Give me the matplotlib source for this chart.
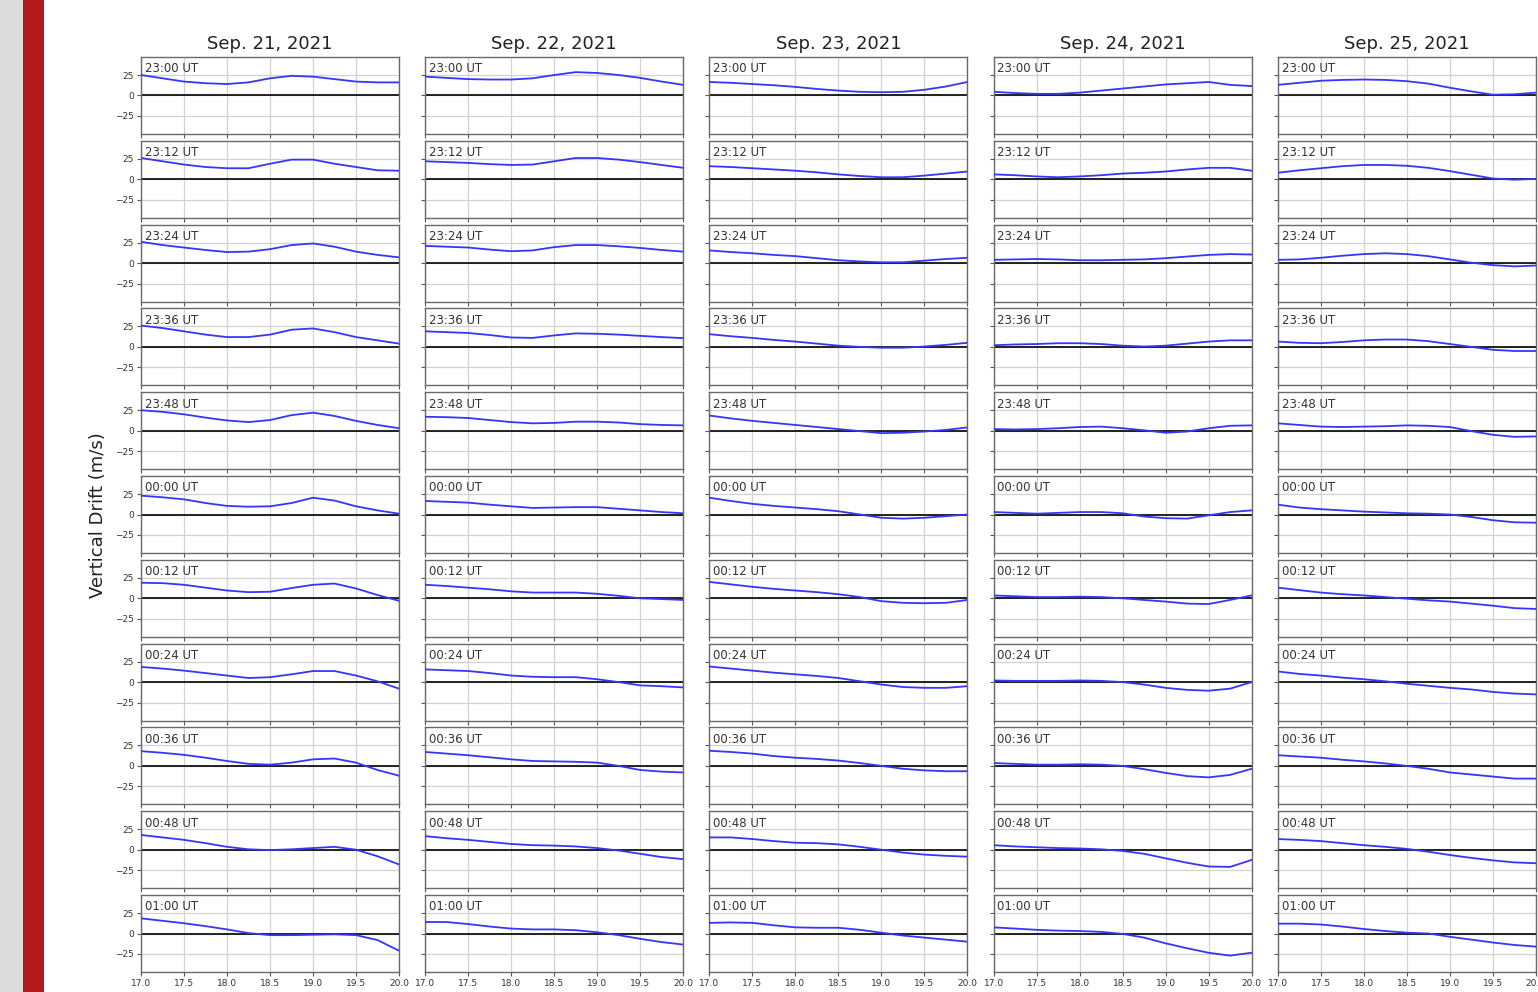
import matplotlib
matplotlib.use("Agg")
import matplotlib.pyplot as plt
from matplotlib.patches import Rectangle
import numpy as np

# ---------------- data ----------------
dates = ["Sep. 21, 2021", "Sep. 22, 2021", "Sep. 23, 2021", "Sep. 24, 2021", "Sep. 25, 2021"]
times = ["23:00 UT", "23:12 UT", "23:24 UT", "23:36 UT", "23:48 UT", "00:00 UT",
         "00:12 UT", "00:24 UT", "00:36 UT", "00:48 UT", "01:00 UT"]
hours = [17.0, 17.25, 17.5, 17.75, 18.0, 18.25, 18.5, 18.75, 19.0, 19.25, 19.5, 19.75, 20.0]
xticks = [17.0, 17.5, 18.0, 18.5, 19.0, 19.5, 20.0]
yticks = [-25, 0, 25]

sep21 = [
    [25, 21, 17, 15, 14, 16, 21, 24, 23, 20, 17, 16, 16],
    [26, 22, 18, 15, 13.5, 13.5, 19, 24, 24, 19, 15, 11, 10.5],
    [26, 22, 19, 16, 13.5, 14, 17, 22, 24, 20, 14, 10, 7],
    [26, 23, 19, 15, 12, 12, 15, 21, 22.5, 18, 12, 8, 4],
    [25, 23, 20, 16, 12.5, 10.5, 13, 19, 22, 18, 12, 7, 3],
    [23, 21, 18.5, 14, 10.5, 9.5, 10, 14, 20.5, 17, 10, 5, 1],
    [19, 18.5, 16.5, 13, 9.5, 7.5, 8, 12.5, 16.5, 18, 12, 4, -3],
    [18.5, 16.5, 14, 11, 8, 5, 6, 9.5, 13.5, 13.5, 8, 1, -8],
    [18, 16, 13.5, 10, 6, 2.5, 1.5, 4, 8, 9, 4, -5, -12],
    [18, 15, 12, 8, 3.5, 0.5, -0.5, 0.5, 2, 3.5, 0, -8, -18],
    [18.5, 15.5, 12.5, 9, 5, 0.5, -2, -2, -1.5, -1, -2, -8, -21],
]
sep22 = [
    [23, 21.5, 20, 19.5, 19.5, 21, 25, 28.5, 27.5, 25, 21.5, 17, 13],
    [22, 21, 20, 18.5, 17.5, 18, 22, 26, 26, 24, 21, 17.5, 14],
    [21, 20, 19, 16.5, 14.5, 15.5, 19.5, 22, 22, 20.5, 18.5, 16, 14],
    [19, 18, 17, 14.5, 11.5, 11, 14, 16.5, 16, 15, 13.5, 12, 10.7],
    [17, 16.5, 15.5, 13, 10.5, 9, 9.5, 11, 11, 10, 8, 7, 6.5],
    [16.5, 15.5, 14.5, 12, 10, 8, 8.5, 9, 9, 7, 5, 3, 1.5],
    [16.5, 15, 13, 11, 8.5, 7, 7, 7, 5.5, 3, 0, -1, -2],
    [15.5, 14.5, 13.5, 11, 8, 6.5, 6, 6, 3.5, 0, -4, -5, -6.5],
    [17, 15, 13, 10.5, 8, 6, 5.5, 5, 4, 0, -5, -7, -8],
    [16.5, 14, 12, 9.5, 7, 5.5, 5, 4, 2, -1, -5, -9, -11.5],
    [14, 14, 11.5, 8.5, 6, 5, 5, 4, 1.5, -2, -6.5, -10.5, -13.5],
]
sep23 = [
    [16.5, 15.5, 14, 12.5, 10.5, 8, 6, 4.5, 4, 4.5, 7, 11, 16.5],
    [16, 15, 13.5, 12, 10.5, 8.5, 6, 4, 2.5, 2.5, 4.5, 7, 9.5],
    [15.5, 13.5, 12, 10, 8.5, 6, 3.5, 2, 1, 1, 3, 5, 6.5],
    [15.5, 13, 11, 8.5, 6.5, 4, 1.5, 0, -1, -1, 0.5, 2.5, 5],
    [18.5, 15, 12, 9.5, 7, 4.5, 2, -0.5, -3, -2.5, -1, 1, 4],
    [20.5, 16.5, 13, 10.5, 8.5, 6.5, 4, 0, -4, -5, -4, -2, 0],
    [20, 17, 14, 11.5, 9.5, 7.5, 5, 1.5, -3.5, -5.5, -6, -5.5, -2],
    [19, 16.5, 14, 11.5, 9.5, 7.5, 5, 1, -3, -6, -7, -7, -5],
    [18.5, 17, 15, 12, 10, 8.5, 6.5, 3.5, 0, -3.5, -5.5, -6.5, -6.5],
    [15, 15, 13, 10.5, 8.5, 8, 6.5, 3.5, 0, -3.5, -6, -7.5, -8.5],
    [13, 13.5, 13, 10, 7.5, 7, 7, 4.5, 1, -2.5, -5, -7.5, -10],
]
sep24 = [
    [4.5, 3, 2, 2, 3.5, 6, 8.5, 11, 13.5, 15, 16.5, 13, 11.5],
    [6, 5, 3.5, 2.5, 3.5, 5, 7, 8, 9.5, 12, 14, 14, 10.5],
    [4, 4.5, 5, 4.5, 3.5, 3.5, 4, 4.5, 6, 8, 10, 11, 10.5],
    [2, 3, 3.5, 4.5, 4.5, 3.5, 1.5, 0.5, 1.5, 4, 6.5, 8, 8],
    [2, 1.5, 2, 3, 4.5, 5, 3, 0.5, -2.5, -1, 3, 6, 6.5],
    [3, 2, 1, 2, 3, 3, 1.5, -2.5, -4.5, -5, -1, 3, 5],
    [3.5, 2.5, 1.5, 1.5, 2, 1.5, 0, -2, -4, -6.5, -7, -2, 3.5],
    [2, 1.5, 1.5, 1.5, 2, 1.5, 0, -3, -7, -9.5, -10.5, -8, 0],
    [3.5, 2.5, 1.5, 1.5, 2, 1.5, 0, -4, -8.5, -12.5, -14, -11, -3.5],
    [5.5, 4, 3, 2, 1.5, 0.5, -1.5, -5, -10.5, -16, -20.5, -21, -12.5],
    [7.5, 6, 4.5, 3.5, 3, 2, -0.5, -5, -12, -18, -23.5, -27, -23.5],
]
sep25 = [
    [13, 15.5, 18, 19, 19.5, 19, 17.5, 14.5, 9.5, 5, 1, 1.5, 3.5],
    [8, 11, 13.5, 16, 17.5, 17.5, 16.5, 14, 10, 5.5, 1, -0.5, 0.5],
    [4, 4.5, 6.5, 9, 11, 12, 11, 8.5, 4.5, 0.5, -2.5, -4, -3],
    [6.5, 5, 4.5, 6, 8, 9, 9, 7, 3.5, 0, -3.5, -5, -5],
    [9, 7, 5, 4.5, 5, 5.5, 6.5, 6, 4.5, -0.5, -5, -7.5, -7],
    [12, 8.5, 6.5, 5, 3.5, 2.5, 1.5, 1, 0, -3, -7, -9.5, -10],
    [13, 10, 7, 5, 3.5, 1.5, -0.5, -2.5, -4, -6.5, -9, -12, -13],
    [13, 10, 8, 5.5, 3.5, 1, -2, -4.5, -7, -9, -12, -14, -15],
    [13, 11.5, 10, 7.5, 5.5, 3, 0, -3.5, -8, -10.5, -13, -15.5, -15.5],
    [13, 12, 10.5, 8, 5.5, 3.5, 1, -2.5, -6.5, -10, -13, -15.5, -16.5],
    [12, 12, 11, 8.5, 5.5, 3, 1, 0, -4, -7.5, -11, -14, -16],
]
drifts = [sep21, sep22, sep23, sep24, sep25]

# ---------------- layout ----------------
W, H = 1538, 992
fig = plt.figure(figsize=(W / 100, H / 100), dpi=100)
fig.patch.set_facecolor("white")

# side strips of the screenshot
fig.patches.append(Rectangle((0, 0), 22.7 / W, 1, transform=fig.transFigure,
                             facecolor="#dcdcdc", edgecolor="none", zorder=0))
fig.patches.append(Rectangle((22.7 / W, 0), 21.5 / W, 1, transform=fig.transFigure,
                             facecolor="#b3191c", edgecolor="none", zorder=0))

ax_left0, col_step, ax_w = 141, 284.2, 258
ax_top0, row_step, ax_h = 57, 83.8, 77

for j, date in enumerate(dates):
    for i, t in enumerate(times):
        L = ax_left0 + col_step * j
        T = ax_top0 + row_step * i
        ax = fig.add_axes([L / W, 1 - (T + ax_h) / H, ax_w / W, ax_h / H])
        ax.plot(hours, drifts[j][i], color="#3535ff", lw=1.3, zorder=3)
        ax.axhline(0, color="black", lw=1.2, zorder=2)
        ax.set_xlim(17.0, 20.0)
        ax.set_ylim(-47, 47)
        ax.set_xticks(xticks)
        ax.set_yticks(yticks)
        ax.grid(True, color="#d2d2d2", lw=0.9)
        ax.set_axisbelow(True)
        for s in ax.spines.values():
            s.set_color("#6a6a6a")
            s.set_linewidth(1.0)
        ax.tick_params(axis="both", length=3, width=0.8, color="#555555",
                       labelsize=6.5, labelcolor="#333333", pad=2)
        if j != 0:
            ax.set_yticklabels([])
        else:
            ax.set_yticklabels(["\u221225", "0", "25"])
        if i != len(times) - 1:
            ax.set_xticklabels([])
        else:
            ax.set_xticklabels([f"{v:.1f}" for v in xticks])
        ax.text(0.015, 0.93, t, transform=ax.transAxes, ha="left", va="top",
                fontsize=8.5, color="#333333", zorder=4)
    fig.text((ax_left0 + col_step * j + ax_w / 2) / W, 1 - 44 / H, date,
             ha="center", va="center", fontsize=13, color="#222222")

fig.text(98 / W, 1 - 515 / H, "Vertical Drift (m/s)", rotation=90,
         ha="center", va="center", fontsize=13, color="#222222")

fig.savefig("out.png", dpi=100, facecolor="white")
